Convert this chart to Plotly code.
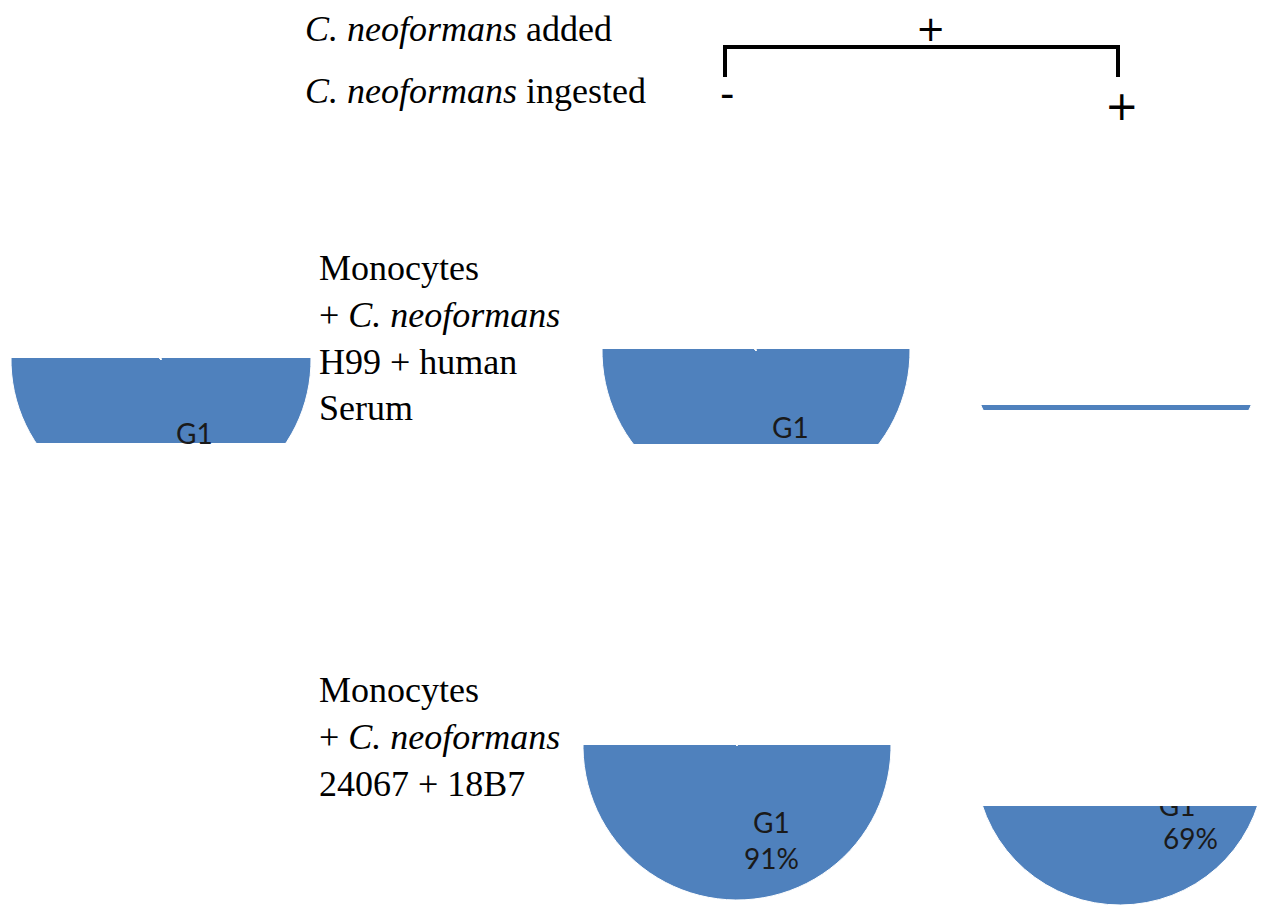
import math
import plotly.graph_objects as go

W, H = 1265, 907
OFF = 8  # page body margin
FW, FH = W - OFF, H - OFF

# ---------------- data ----------------
phases = ["G1", "S", "G2/M"]
# panels: A = monocytes (control), B = H99 not ingested, C = H99 ingested,
#         D = 24067 not ingested, E = 24067 ingested
g1_pct = [90, 90, 72, 91, 69]
s_pct = [4, 4, 12, 4, 13]
g2m_pct = [6, 6, 16, 5, 18]

header_added = "<i>C. neoformans</i> added"
header_ingested = "<i>C. neoformans</i> ingested"
row_labels = [
    "Monocytes<br>+ <i>C. neoformans</i><br>H99 + human<br>Serum",
    "Monocytes<br>+ <i>C. neoformans</i><br>24067 + 18B7",
]
added_marks = ["+"]
ingested_marks = ["-", "+"]

# ---------------- layout (page pixels) ----------------
pie_cx = [161, 756, 1116, 737, 1120]
pie_cy = [360, 351, 345, 746, 760]
pie_r = [150, 154, 148, 154, 145]
crop_top = [358, 349, 405, 745, 806]
crop_bottom = [443, 444, 410, 907, 907]
# how the G1 label is shown: "label" (name only), "full" (name + %),
# "split" (name drawn by the pie and clipped, % as annotation), "none"
label_mode = ["label", "label", "none", "full", "split"]
label_mid = [160, 160, 180, 160, 128]
pct_pos = {4: (1190, 838)}

slice_colors = ["#4F81BD", "#C0504D", "#9BBB59"]
label_font = dict(family="Lato, Open Sans, sans-serif", size=28, color="#1a1a1a")
serif = "Liberation Serif, Times New Roman, serif"


def px(x):
    return min(max((x - OFF) / FW, 0.0), 1.0)


def py(y):
    return min(max(1 - (y - OFF) / FH, 0.0), 1.0)


fig = go.Figure()
shapes = []
annotations = []

for i in range(len(g1_pct)):
    vals = [g1_pct[i], s_pct[i], g2m_pct[i]]
    share = vals[0] / sum(vals)
    rot = label_mid[i] - share * 180
    cx, cy, r = pie_cx[i], pie_cy[i], pie_r[i]
    if label_mode[i] == "split":
        tt = ["%{label}", "", ""]
    else:
        tt = ["", "", ""]
    fig.add_trace(go.Pie(
        labels=phases, values=vals, sort=False, direction="clockwise",
        rotation=rot,
        domain=dict(x=[px(cx - r), px(cx + r)], y=[py(cy + r), py(cy - r)]),
        marker=dict(colors=slice_colors, line=dict(width=1, color="white")),
        texttemplate=tt, textposition="inside",
        insidetextorientation="horizontal",
        insidetextfont=label_font,
        showlegend=False, hoverinfo="label+percent",
    ))
    # white masks that crop the pie to its visible band
    shapes.append(dict(type="rect", xref="paper", yref="paper", layer="above",
                       x0=px(cx - r - 3), x1=px(cx + r + 3),
                       y0=py(crop_top[i]), y1=py(cy - r - 3),
                       fillcolor="white", line=dict(width=0)))
    if crop_bottom[i] < cy + r:
        shapes.append(dict(type="rect", xref="paper", yref="paper", layer="above",
                           x0=px(cx - r - 3), x1=px(cx + r + 3),
                           y0=py(cy + r + 3), y1=py(crop_bottom[i]),
                           fillcolor="white", line=dict(width=0)))
    # slice labels
    if label_mode[i] in ("label", "full"):
        ang = math.radians(label_mid[i])
        bx = cx + 0.65 * r * math.sin(ang)
        by = cy - 0.65 * r * math.cos(ang)
        if label_mode[i] == "label":
            txt = phases[0]
            ty = min(by - 18, crop_bottom[i] - 10)
        else:
            txt = f"{phases[0]}<br>{round(share * 100)}%"
            ty = by
        annotations.append(dict(xref="paper", yref="paper", x=px(bx), y=py(ty),
                                xanchor="center", yanchor="middle", showarrow=False,
                                text=txt, font=label_font))
    elif label_mode[i] == "split":
        xx, yy = pct_pos[i]
        annotations.append(dict(xref="paper", yref="paper", x=px(xx), y=py(yy),
                                xanchor="center", yanchor="middle", showarrow=False,
                                text=f"{round(share * 100)}%", font=label_font))

# header texts
hfont = dict(family=serif, size=36, color="black")
annotations.append(dict(xref="paper", yref="paper", x=px(303), y=py(29.5),
                        xanchor="left", yanchor="middle", showarrow=False,
                        text=header_added, font=hfont))
annotations.append(dict(xref="paper", yref="paper", x=px(303), y=py(91),
                        xanchor="left", yanchor="middle", showarrow=False,
                        text=header_ingested, font=hfont))
# row labels
row_y = [338, 737]
for lab, yy in zip(row_labels, row_y):
    annotations.append(dict(xref="paper", yref="paper", x=px(317), y=py(yy),
                            xanchor="left", yanchor="middle", align="left", showarrow=False,
                            text=lab, font=hfont))

# +/- marks
for m, (xx, yy) in zip(added_marks, [(930, 29)]):
    annotations.append(dict(xref="paper", yref="paper", x=px(xx), y=py(yy),
                            xanchor="center", yanchor="middle", showarrow=False,
                            text=m, font=dict(family="DejaVu Sans", size=35, color="black")))
for m, (xx, yy) in zip(ingested_marks, [(727, 94), (1122, 106)]):
    annotations.append(dict(xref="paper", yref="paper", x=px(xx), y=py(yy),
                            xanchor="center", yanchor="middle", showarrow=False,
                            text=m, font=dict(family="DejaVu Sans", size=40, color="black")))

# bracket
shapes.append(dict(type="path", xref="paper", yref="paper", layer="above",
                   path=f"M {px(725)},{py(77)} L {px(725)},{py(47)} L {px(1118)},{py(47)} L {px(1118)},{py(77)}",
                   line=dict(color="black", width=4)))

fig.update_layout(
    width=FW, height=FH,
    margin=dict(l=0, r=0, t=0, b=0),
    paper_bgcolor="white", plot_bgcolor="white",
    shapes=shapes, annotations=annotations,
    showlegend=False,
)

fig.write_html("out.html")
